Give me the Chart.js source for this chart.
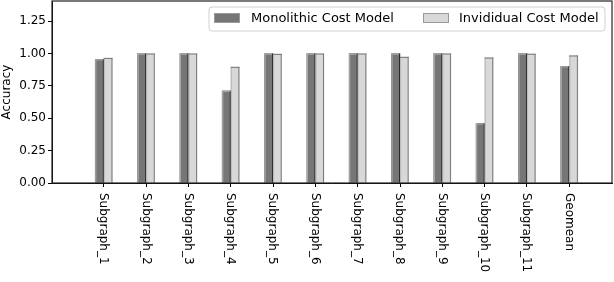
<!DOCTYPE html>
<html>
<head>
<meta charset="utf-8">
<script src="https://cdn.jsdelivr.net/npm/chart.js@4.4.0/dist/chart.umd.min.js"></script>
<style>
  html, body { margin: 0; padding: 0; background: #fff; }
  #c { display: block; }
</style>
</head>
<body>
<canvas id="c" width="614" height="282"></canvas>
<script>
const categories = ['Subgraph_1', 'Subgraph_2', 'Subgraph_3', 'Subgraph_4', 'Subgraph_5', 'Subgraph_6',
                    'Subgraph_7', 'Subgraph_8', 'Subgraph_9', 'Subgraph_10', 'Subgraph_11', 'Geomean'];
const monolithic = [0.956, 1.0, 1.0, 0.712, 1.0, 1.0, 1.0, 1.0, 1.0, 0.461, 1.0, 0.902];
const individual = [0.966, 1.0, 1.0, 0.897, 0.997, 1.0, 1.0, 0.974, 1.0, 0.969, 0.998, 0.985];
const seriesNames = ['Monolithic Cost Model', 'Invididual Cost Model'];
const yTicks = [0, 0.25, 0.5, 0.75, 1.0, 1.25];

const FONT = 'DejaVu Sans';
Chart.defaults.font.family = FONT;
Chart.defaults.color = '#000';

const DARK = '#767676';
const LIGHT = '#d8d8d8';

const framePlugin = {
  id: 'frame',
  afterDraw(chart) {
    const a = chart.chartArea, ctx = chart.ctx;
    ctx.save();
    ctx.strokeStyle = '#222';
    ctx.lineWidth = 1.2;
    ctx.strokeRect(a.left, a.top, a.right - a.left, a.bottom - a.top);
    ctx.restore();
  }
};

const barEdgePlugin = {
  id: 'barEdges',
  afterDatasetsDraw(chart) {
    const ctx = chart.ctx;
    ctx.save();
    chart.data.datasets.forEach((ds, di) => {
      const meta = chart.getDatasetMeta(di);
      meta.data.forEach(el => {
        const w = el.width, l = el.x - w / 2, r = el.x + w / 2, t = el.y, b = el.base;
        if (di === 0) {
          ctx.fillStyle = '#a8a8a8';
          ctx.fillRect(l, t, 1.2, b - t);
          ctx.fillRect(l, t, w, 1.2);
          ctx.fillStyle = '#2a2a2a';
          ctx.fillRect(r - 1, t, 1, b - t);
        } else {
          ctx.fillStyle = '#bdbdbd';
          ctx.fillRect(l, t, 1.2, b - t);
          ctx.fillStyle = '#7a7a7a';
          ctx.fillRect(l, t, w, 1);
          ctx.fillRect(r - 1, t, 1, b - t);
        }
      });
    });
    ctx.restore();
  }
};

const xLabelPlugin = {
  id: 'xLabels',
  afterDraw(chart) {
    const ctx = chart.ctx, xs = chart.scales.x, a = chart.chartArea;
    ctx.save();
    ctx.font = '12px "' + FONT + '"';
    ctx.fillStyle = '#000';
    ctx.textAlign = 'left';
    ctx.textBaseline = 'middle';
    categories.forEach((lab, i) => {
      const x = xs.getPixelForValue(i);
      ctx.save();
      ctx.translate(x, a.bottom + 10);
      ctx.rotate(Math.PI / 2);
      ctx.fillText(lab, 0, 0.5);
      ctx.restore();
    });
    ctx.restore();
  }
};

const legendPlugin = {
  id: 'boxLegend',
  afterDraw(chart) {
    const ctx = chart.ctx;
    ctx.save();
    const bx = 209, by = 7, bw = 396, bh = 24, r = 3;
    ctx.beginPath();
    ctx.moveTo(bx + r, by);
    ctx.lineTo(bx + bw - r, by);
    ctx.arcTo(bx + bw, by, bx + bw, by + r, r);
    ctx.lineTo(bx + bw, by + bh - r);
    ctx.arcTo(bx + bw, by + bh, bx + bw - r, by + bh, r);
    ctx.lineTo(bx + r, by + bh);
    ctx.arcTo(bx, by + bh, bx, by + bh - r, r);
    ctx.lineTo(bx, by + r);
    ctx.arcTo(bx, by, bx + r, by, r);
    ctx.closePath();
    ctx.fillStyle = 'rgba(255,255,255,0.85)';
    ctx.fill();
    ctx.strokeStyle = '#d0d0d0';
    ctx.lineWidth = 1;
    ctx.stroke();
    const entries = [
      { px: 214, tx: 251, color: chart.data.datasets[0].backgroundColor, edge: '#9a9a9a' },
      { px: 423, tx: 459, color: chart.data.datasets[1].backgroundColor, edge: '#999999' }
    ];
    ctx.font = '13px "' + FONT + '"';
    ctx.textBaseline = 'middle';
    ctx.textAlign = 'left';
    entries.forEach((e, i) => {
      ctx.fillStyle = e.color;
      ctx.fillRect(e.px, 13.5, 26, 9);
      ctx.strokeStyle = e.edge;
      ctx.strokeRect(e.px + 0.5, 13.5, 25, 9);
      ctx.fillStyle = '#000';
      ctx.fillText(chart.data.datasets[i].label, e.tx, 18.5);
    });
    ctx.restore();
  }
};

new Chart(document.getElementById('c'), {
  type: 'bar',
  data: {
    datasets: [
      {
        label: seriesNames[0],
        data: categories.map((c, i) => ({ x: i, y: monolithic[i] })),
        backgroundColor: DARK,
        borderWidth: 0,
        barThickness: 8.6
      },
      {
        label: seriesNames[1],
        data: categories.map((c, i) => ({ x: i, y: individual[i] })),
        backgroundColor: LIGHT,
        borderWidth: 0,
        barThickness: 8.6
      }
    ]
  },
  options: {
    responsive: false,
    animation: false,
    devicePixelRatio: 1,
    layout: { padding: { left: 0, right: 2, top: 1, bottom: 0 } },
    plugins: { legend: { display: false }, tooltip: { enabled: false } },
    scales: {
      x: {
        type: 'linear',
        min: -1.225,
        max: 12.01,
        offset: false,
        afterBuildTicks: s => { s.ticks = categories.map((c, i) => ({ value: i })); },
        afterFit: s => { s.height = 99; s.paddingLeft = 0; s.paddingRight = 0; },
        ticks: { display: false },
        grid: { display: true, drawOnChartArea: false, drawTicks: true, tickLength: 4, color: '#000', offset: false },
        border: { display: true, color: '#000', width: 1 }
      },
      y: {
        min: 0,
        max: 1.406,
        afterBuildTicks: s => { s.ticks = yTicks.map(v => ({ value: v })); },
        afterFit: s => { s.width = 52; s.paddingTop = 0; s.paddingBottom = 0; },
        ticks: {
          callback: v => Number(v).toFixed(2),
          font: { family: FONT, size: 12 },
          color: '#000',
          padding: 2
        },
        grid: { display: true, drawOnChartArea: false, drawTicks: true, tickLength: 4, color: '#000' },
        border: { display: true, color: '#000', width: 1 },
        title: {
          display: true,
          text: 'Accuracy',
          font: { family: FONT, size: 12 },
          color: '#000',
          padding: { top: 0, bottom: 0 }
        }
      }
    }
  },
  plugins: [barEdgePlugin, framePlugin, xLabelPlugin, legendPlugin]
});
</script>
</body>
</html>
